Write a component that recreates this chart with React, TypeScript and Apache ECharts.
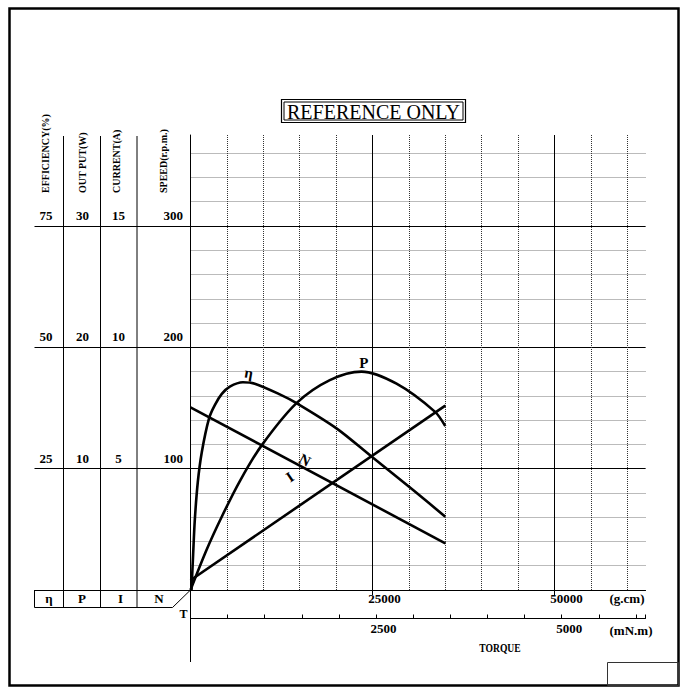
import React, { useEffect, useRef } from 'react';
import * as echarts from 'echarts';

// ---- data (torque in g.cm) ----
const etaTorque = [140, 360, 590, 1000, 1550, 2555, 3340, 4300, 5400, 7200, 8830, 12266, 14560, 20054, 24862, 30577, 35000];
const etaValues = [0, 7.3, 14.4, 22.2, 28.4, 35.4, 38.1, 40.4, 41.9, 42.8, 42.5, 40.3, 38.5, 33.3, 27.5, 20.6, 15.1];

const powerTorque = [0, 2200, 4260, 6800, 9750, 14560, 19135, 23490, 28300, 33560, 35000];
const powerValues = [0, 3.3, 6.0, 9.0, 11.9, 15.4, 17.3, 18.0, 17.0, 14.7, 13.5];

const currentTorque = [0, 35000];
const currentValues = [0.4, 7.6];

const speedTorque = [0, 35000];
const speedValues = [150.5, 38.5];

const effTicks = [25, 50, 75];
const powerTicks = [10, 20, 30];
const currentTicks = [5, 10, 15];
const speedTicks = [100, 200, 300];
const gcmLabels = [25000, 50000];
const mnmLabels = [2500, 5000];

const headers = ['EFFICIENCY(%)', 'OUT PUT(W)', 'CURRENT(A)', 'SPEED(r.p.m.)'];
const rowSymbols = ['η', 'P', 'I', 'N'];

const GCM_MAX = 62500;
const MNM_MAX = GCM_MAX * 0.0980665;

const SERIF = '"Liberation Serif", "Times New Roman", serif';

function pairs(xs: number[], ys: number[]) {
  return xs.map((x, i) => [x, ys[i]]);
}

export default function App() {
  const ref = useRef<HTMLDivElement>(null);
  useEffect(() => {
    const chart = echarts.init(ref.current!, null, { renderer: 'svg' });
    const gridTop = 135;
    const gridBottom = 687 - 590;
    const gridLeft = 190.5;
    const gridRight = 683 - 645.5;
    const lbl = { fontFamily: SERIF, fontWeight: 'bold' as const, fontSize: 13, color: '#000' };

    const line = (x1: number, y1: number, x2: number, y2: number, w = 1) => ({
      type: 'line', shape: { x1, y1, x2, y2 }, style: { stroke: '#000', lineWidth: w }, silent: true,
    });

    const mkYAxis = (max: number, interval: number, ticks: number[], margin: number, offset: number, align: string) => ({
      type: 'value', gridIndex: 0, position: 'left', offset, min: 0, max, interval,
      axisLine: { show: false }, axisTick: { show: false }, splitLine: { show: false },
      axisLabel: {
        ...lbl, margin, align, verticalAlign: 'bottom', padding: [0, 0, 4, 0],
        formatter: (v: number) => (ticks.includes(Math.round(v * 1000) / 1000) ? String(v) : ''),
      },
    });

    const curveLabel = (text: string, coord: number[], rotate: number) => ({
      symbol: 'circle', symbolSize: 0, silent: true,
      data: [{ coord, value: text }],
      label: { show: true, position: 'inside', formatter: text, fontFamily: SERIF, fontWeight: 'bold', fontSize: 15, color: '#000', rotate },
    });

    const graphic: any[] = [
      { type: 'rect', shape: { x: 9.5, y: 8.5, width: 669, height: 677 }, style: { fill: 'none', stroke: '#000', lineWidth: 2.5 }, silent: true },
      { type: 'rect', shape: { x: 607.5, y: 662.5, width: 71, height: 23 }, style: { fill: 'none', stroke: '#333', lineWidth: 1 }, silent: true },
      { type: 'rect', shape: { x: 281.5, y: 99.5, width: 184, height: 23 }, style: { fill: 'none', stroke: '#000', lineWidth: 1.2 }, silent: true },
      { type: 'rect', shape: { x: 284, y: 102, width: 179, height: 18 }, style: { fill: 'none', stroke: '#000', lineWidth: 1 }, silent: true },
      { type: 'text', x: 373.5, y: 111.5, style: { text: 'REFERENCE ONLY', fontFamily: SERIF, fontSize: 20, fill: '#000', align: 'center', verticalAlign: 'middle' }, silent: true },
      line(63.5, 136, 63.5, 607.5),
      line(100.5, 136, 100.5, 607.5),
      line(137, 136, 137, 607.5),
      line(34.5, 590, 34.5, 607.5),
      line(34.5, 607.5, 172.5, 607.5),
      line(172.5, 607.5, 190.5, 590),
      line(190.5, 590, 190.5, 662),
      { type: 'text', x: 183.5, y: 614, style: { text: 'T', fontFamily: SERIF, fontWeight: 'bold', fontSize: 12, fill: '#000', align: 'center', verticalAlign: 'middle' }, silent: true },
      { type: 'text', x: 500, y: 648, scaleX: 0.8, style: { text: 'TORQUE', fontFamily: SERIF, fontWeight: 'bold', fontSize: 12, fill: '#000', align: 'center', verticalAlign: 'middle' }, silent: true },
    ];
    const headerX = [45.5, 82.5, 116.5, 163.5];
    headers.forEach((h, i) => {
      graphic.push({
        type: 'text', x: headerX[i], y: 193, rotation: Math.PI / 2,
        style: { text: h, fontFamily: SERIF, fontWeight: 'bold', fontSize: 10, fill: '#000', align: 'left', verticalAlign: 'middle' },
        silent: true,
      });
    });
    const rowX = [49, 82, 120.5, 159];
    rowSymbols.forEach((s, i) => {
      graphic.push({
        type: 'text', x: rowX[i], y: 598.5,
        style: { text: s, fontFamily: SERIF, fontWeight: 'bold', fontSize: 13, fill: '#000', align: 'center', verticalAlign: 'middle' },
        silent: true,
      });
    });

    const option: any = {
      animation: false,
      backgroundColor: '#fff',
      grid: [
        { left: gridLeft, right: gridRight, top: gridTop, bottom: gridBottom },
        { left: 34.5, right: gridRight, top: gridTop, bottom: gridBottom },
      ],
      xAxis: [
        {
          type: 'value', gridIndex: 0, min: 0, max: GCM_MAX, interval: 5000,
          axisLine: { show: true, onZero: false, lineStyle: { color: '#000', width: 1 } },
          axisTick: { show: true, customValues: gcmLabels, length: 5, lineStyle: { color: '#000', width: 1 } },
          axisLabel: {
            ...lbl, customValues: gcmLabels, margin: 2, padding: [0, 0, 0, 24],
            formatter: (v: number) => (gcmLabels.includes(v) ? String(v) : ''),
          },
          splitLine: { show: false },
          name: '(g.cm)', nameLocation: 'end', nameGap: -1,
          nameTextStyle: { ...lbl, align: 'right', verticalAlign: 'top', padding: [2, 0, 0, 0] },
        },
        {
          type: 'value', gridIndex: 0, min: 0, max: GCM_MAX, interval: 5000,
          axisLine: { show: false }, axisTick: { show: false }, axisLabel: { show: false },
          splitLine: { show: true, showMinLine: false, showMaxLine: false, lineStyle: { color: '#333', type: 'dotted', width: 1 } },
        },
        {
          type: 'value', gridIndex: 0, min: 0, max: GCM_MAX, interval: 25000,
          axisLine: { show: false }, axisTick: { show: false }, axisLabel: { show: false },
          splitLine: { show: true, showMinLine: false, showMaxLine: false, lineStyle: { color: '#000', width: 1 } },
        },
        {
          type: 'value', gridIndex: 0, position: 'bottom', offset: 28.5, min: 0, max: MNM_MAX, interval: 500,
          axisLine: { show: true, onZero: false, lineStyle: { color: '#000', width: 1 } },
          axisTick: { show: true, inside: true, length: 4, lineStyle: { color: '#000', width: 1 } },
          axisLabel: {
            ...lbl, customValues: mnmLabels, margin: 3, padding: [0, 0, 0, 15],
            formatter: (v: number) => (mnmLabels.includes(v) ? String(v) : ''),
          },
          splitLine: { show: false },
          name: '(mN.m)', nameLocation: 'end', nameGap: 7,
          nameTextStyle: { ...lbl, align: 'right', verticalAlign: 'top', padding: [5, 0, 0, 0] },
        },
        { type: 'value', gridIndex: 1, min: 0, max: 1, show: false },
      ],
      yAxis: [
        {
          type: 'value', gridIndex: 0, position: 'left', min: 0, max: 375, interval: 20,
          axisLine: { show: true, onZero: false, lineStyle: { color: '#000', width: 1 } },
          axisTick: { show: false },
          axisLabel: {
            ...lbl, margin: 7.5, align: 'right', verticalAlign: 'bottom', padding: [0, 0, 4, 0],
            formatter: (v: number) => (speedTicks.includes(v) ? String(v) : ''),
          },
          splitLine: { show: true, showMinLine: false, showMaxLine: false, lineStyle: { color: '#777', type: 'dotted', width: 1 } },
        },
        mkYAxis(93.75, 25, effTicks, 17.5, 127, 'center'),
        mkYAxis(37.5, 10, powerTicks, 17.5, 90.5, 'center'),
        mkYAxis(18.75, 5, currentTicks, 18.5, 53.5, 'center'),
        {
          type: 'value', gridIndex: 1, min: 0, max: 375, interval: 100,
          axisLine: { show: false }, axisTick: { show: false }, axisLabel: { show: false },
          splitLine: { show: true, showMinLine: true, showMaxLine: false, lineStyle: { color: '#000', width: 1 } },
        },
      ],
      series: [
        {
          type: 'line', name: 'η', xAxisIndex: 0, yAxisIndex: 1, data: pairs(etaTorque, etaValues),
          smooth: 0.3, showSymbol: false, lineStyle: { color: '#000', width: 2.6 },
          markPoint: curveLabel('η', [8000, 44.7], -10),
        },
        {
          type: 'line', name: 'P', xAxisIndex: 0, yAxisIndex: 2, data: pairs(powerTorque, powerValues),
          smooth: 0.3, showSymbol: false, lineStyle: { color: '#000', width: 2.6 },
          markPoint: curveLabel('P', [23800, 18.7], 0),
        },
        {
          type: 'line', name: 'I', xAxisIndex: 0, yAxisIndex: 3, data: pairs(currentTorque, currentValues),
          showSymbol: false, lineStyle: { color: '#000', width: 2.6 },
          markPoint: curveLabel('I', [13640, 4.66], 34),
        },
        {
          type: 'line', name: 'N', xAxisIndex: 0, yAxisIndex: 0, data: pairs(speedTorque, speedValues),
          showSymbol: false, lineStyle: { color: '#000', width: 2.6 },
          markPoint: curveLabel('N', [15700, 107], -28),
        },
      ],
      graphic,
    };
    chart.setOption(option);
    return () => chart.dispose();
  }, []);
  return <div ref={ref} style={{ position: 'fixed', left: 0, top: 0, width: 683, height: 687, background: '#fff' }} />;
}
